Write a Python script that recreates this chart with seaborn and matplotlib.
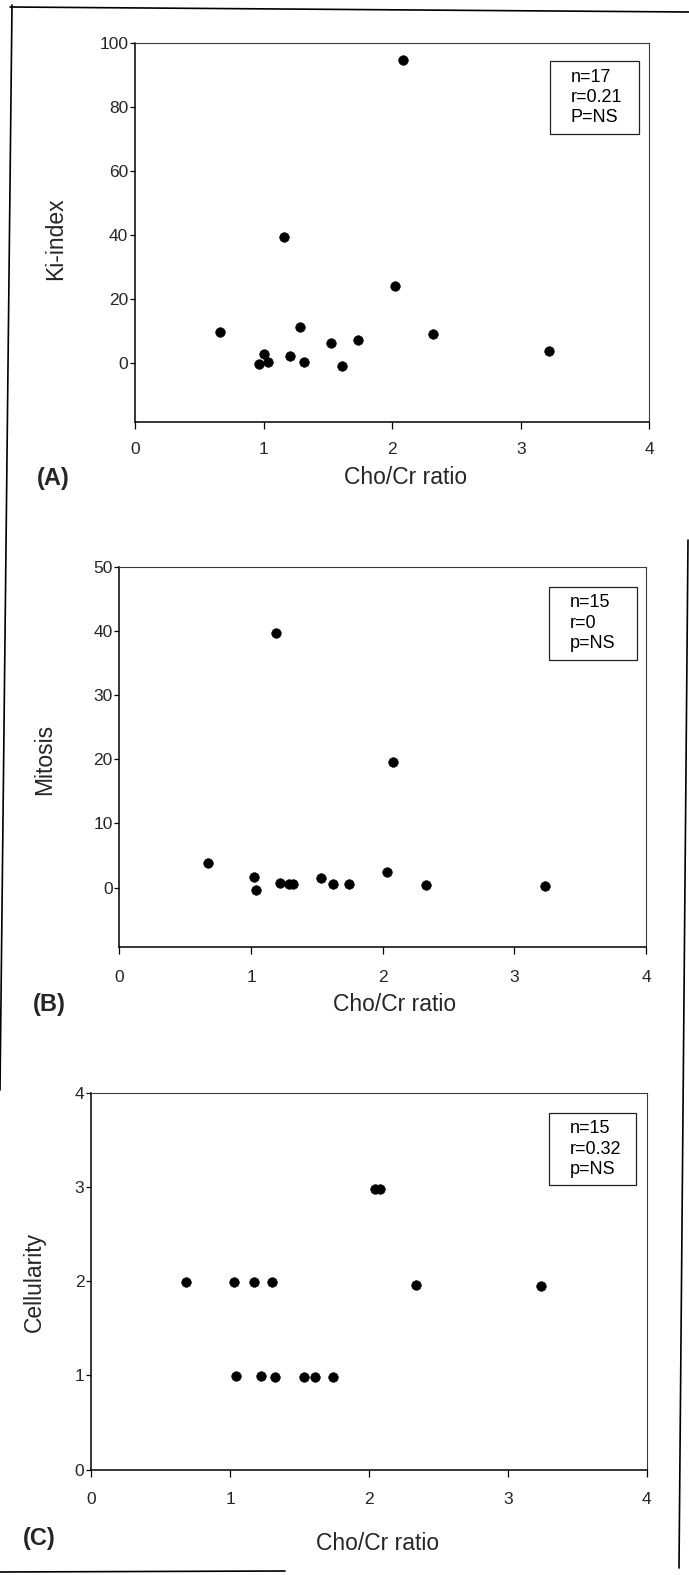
import numpy as np
import pandas as pd
import matplotlib
matplotlib.use("Agg")
import matplotlib.pyplot as plt
from matplotlib.lines import Line2D
from matplotlib.patches import Rectangle
import seaborn as sns

# Cho/Cr ratio versus histology markers
ki_ratio = [0.66, 0.96, 1.00, 1.03, 1.16, 1.20, 1.28, 1.31, 1.52, 1.61, 1.73, 2.02, 2.08, 2.32, 3.22]
ki_index = [9.8, -0.3, 2.9, 0.5, 39.6, 2.3, 11.4, 0.3, 6.4, -0.7, 7.4, 24.3, 94.7, 9.1, 3.8]

mit_ratio = [0.67, 1.02, 1.04, 1.19, 1.22, 1.29, 1.32, 1.53, 1.62, 1.74, 2.03, 2.08, 2.33, 3.23]
mitosis = [3.8, 1.7, -0.3, 39.7, 0.7, 0.6, 0.6, 1.5, 0.5, 0.5, 2.5, 19.5, 0.4, 0.2]

cel_ratio = [0.68, 1.03, 1.04, 1.17, 1.22, 1.30, 1.32, 1.53, 1.61, 1.74, 2.04, 2.08, 2.34, 3.24]
cellularity = [1.99, 1.99, 0.99, 1.99, 0.99, 1.99, 0.985, 0.98, 0.98, 0.98, 2.98, 2.98, 1.96, 1.95]

x_ticks = [0, 1, 2, 3, 4]
ki_ticks = [0, 20, 40, 60, 80, 100]
mit_ticks = [0, 10, 20, 30, 40, 50]
cel_ticks = [0, 1, 2, 3, 4]

stats_a = ["n=17", "r=0.21", "P=NS"]
stats_b = ["n=15", "r=0", "p=NS"]
stats_c = ["n=15", "r=0.32", "p=NS"]

sns.set_theme(style="white")
plt.rcParams["font.family"] = ["Liberation Sans", "DejaVu Sans"]

W, H = 689, 1575
fig = plt.figure(figsize=(W / 100, H / 100), dpi=100)
fig.patch.set_facecolor("white")


def fx(x):
    return x / W


def fy(y):
    return 1 - y / H


def make_axes(left, right, top, bottom):
    return fig.add_axes([fx(left), fy(bottom), (right - left) / W, (bottom - top) / H])


panels = [
    dict(box=(135.3, 649.4, 43.3, 421.7), x=ki_ratio, y=ki_index, ylim=(-18.2, 100),
         yticks=ki_ticks, ylabel="Ki-index", ylab_pos=(56, 239), tag="(A)", tag_pos=(53, 479),
         xlab_pos=(406, 478), stats=stats_a, sbox=(550, 639, 61, 134), xpad=9.5),
    dict(box=(119.5, 646.0, 566.7, 946.7), x=mit_ratio, y=mitosis, ylim=(-9.2, 50),
         yticks=mit_ticks, ylabel="Mitosis", ylab_pos=(45, 759), tag="(B)", tag_pos=(49, 1004),
         xlab_pos=(395, 1005), stats=stats_b, sbox=(549, 637, 587, 660), xpad=12),
    dict(box=(91.4, 646.8, 1092.6, 1469.6), x=cel_ratio, y=cellularity, ylim=(0, 4),
         yticks=cel_ticks, ylabel="Cellularity", ylab_pos=(34, 1282), tag="(C)", tag_pos=(39, 1538),
         xlab_pos=(378, 1544), stats=stats_c, sbox=(549, 636, 1113, 1185), xpad=11),
]

for p in panels:
    ax = make_axes(*p["box"])
    df = pd.DataFrame({"ratio": p["x"], "value": p["y"]})
    sns.scatterplot(data=df, x="ratio", y="value", ax=ax, color="black",
                    edgecolor="black", s=48, linewidth=0.4, zorder=3, legend=False)
    ax.set_xlim(0, 4)
    ax.set_ylim(*p["ylim"])
    ax.set_xticks(x_ticks)
    ax.set_yticks(p["yticks"])
    ax.set_xlabel("")
    ax.set_ylabel("")
    ax.tick_params(axis="x", direction="out", length=5, width=0.9, color="black",
                   labelsize=12.5, pad=p["xpad"], bottom=True)
    ax.tick_params(axis="y", direction="out", length=3.5, width=0.9, color="black",
                   labelsize=12.5, pad=1.5, left=True)
    for side in ("left", "bottom"):
        ax.spines[side].set_color("black")
        ax.spines[side].set_linewidth(1.1)
    for side in ("top", "right"):
        ax.spines[side].set_color("#3a3a3a")
        ax.spines[side].set_linewidth(0.8)
    ax.set_facecolor("white")

    # statistics box
    l, r, t, b = p["sbox"]
    fig.patches.append(Rectangle((fx(l), fy(b)), (r - l) / W, (b - t) / H,
                                 transform=fig.transFigure, fill=False,
                                 edgecolor="#222222", linewidth=0.9, zorder=5))
    mid = (t + b) / 2
    for i, line in enumerate(p["stats"]):
        fig.text(fx(l + 21), fy(mid + (i - 1) * 20.5), line, fontsize=13,
                 ha="left", va="center", color="black")

    fig.text(fx(p["xlab_pos"][0]), fy(p["xlab_pos"][1]), "Cho/Cr ratio",
             fontsize=16.5, ha="center", va="center")
    fig.text(fx(p["ylab_pos"][0]), fy(p["ylab_pos"][1]), p["ylabel"],
             fontsize=16.5, ha="center", va="center", rotation=90)
    fig.text(fx(p["tag_pos"][0]), fy(p["tag_pos"][1]), p["tag"],
             fontsize=17, fontweight="bold", ha="center", va="center")

# page frame around the figure
frame = [
    ((10, 689), (7, 12)),
    ((12, 0), (5, 1090)),
    ((688, 679), (540, 1568)),
    ((0, 285), (1572, 1571)),
]
for xs, ys in frame:
    fig.add_artist(Line2D([fx(xs[0]), fx(xs[1])], [fy(ys[0]), fy(ys[1])],
                          transform=fig.transFigure, color="black", linewidth=1.2))

fig.savefig("out.png", dpi=100, facecolor="white")
